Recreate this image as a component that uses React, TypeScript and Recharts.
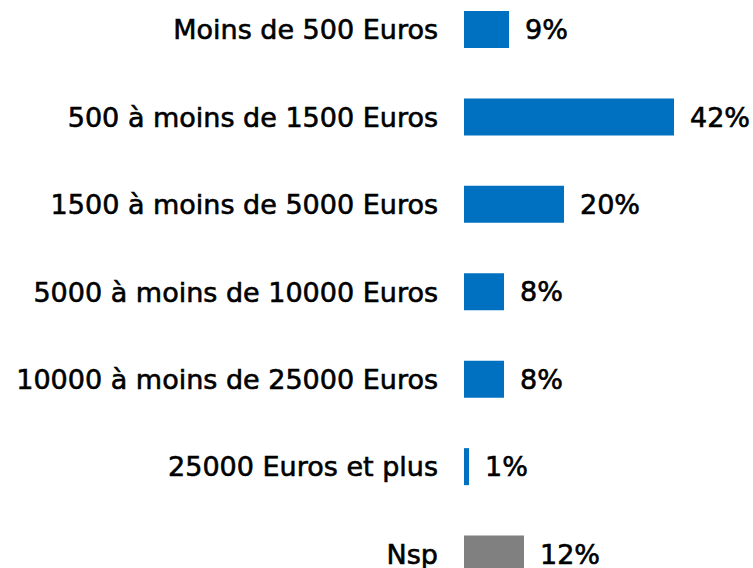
import { BarChart, Bar, XAxis, YAxis, Cell, LabelList } from "recharts";

const categories = [
  "Moins de 500 Euros",
  "500 à moins de 1500 Euros",
  "1500 à moins de 5000 Euros",
  "5000 à moins de 10000 Euros",
  "10000 à moins de 25000 Euros",
  "25000 Euros et plus",
  "Nsp",
];
const values = [9, 42, 20, 8, 8, 1, 12];
const colors = ["#0070C0", "#0070C0", "#0070C0", "#0070C0", "#0070C0", "#0070C0", "#808080"];

const data = categories.map((name, i) => ({ name, value: values[i] }));

const FONT = "'DejaVu Sans', sans-serif";

export default function App() {
  return (
    <div
      style={{
        position: "fixed",
        top: 0,
        left: 0,
        width: 753,
        height: 568,
        overflow: "hidden",
        background: "#fff",
      }}
    >
      <div style={{ position: "absolute", top: -14, left: 0 }}>
        <BarChart
          width={753}
          height={612}
          data={data}
          layout="vertical"
          margin={{ top: 0, right: 39, bottom: 0, left: 0 }}
          barSize={37}
        >
          <XAxis type="number" domain={[0, 50]} hide />
          <YAxis
            type="category"
            dataKey="name"
            width={464}
            axisLine={false}
            tickLine={false}
            tickSize={0}
            tickMargin={26}
            interval={0}
            tick={{
              fontSize: 27,
              fill: "#000",
              fontFamily: FONT,
              stroke: "#000",
              strokeWidth: 0.6,
            }}
          />
          <Bar dataKey="value" isAnimationActive={false}>
            {data.map((d, i) => (
              <Cell key={d.name} fill={colors[i]} />
            ))}
            <LabelList
              dataKey="value"
              position="right"
              offset={16}
              formatter={(v: unknown) => `${v}%`}
              style={{
                fontSize: 27,
                fill: "#000",
                fontFamily: FONT,
                stroke: "#000",
                strokeWidth: 0.6,
              }}
            />
          </Bar>
        </BarChart>
      </div>
    </div>
  );
}
